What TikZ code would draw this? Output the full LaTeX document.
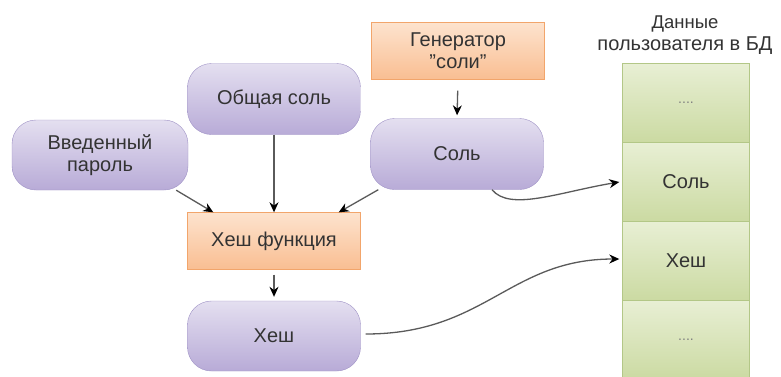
\documentclass[tikz,border=0pt]{standalone}
\usepackage{fontspec}
\setmainfont{Liberation Sans}[Ligatures=ResetAll]
\usetikzlibrary{arrows.meta}
\definecolor{pilltop}{HTML}{E4DFF0}
\definecolor{pillbot}{HTML}{B8ABD7}
\definecolor{pillline}{HTML}{9E91C5}
\definecolor{boxtop}{HTML}{FDE3CE}
\definecolor{boxbot}{HTML}{F9BE92}
\definecolor{boxline}{HTML}{F2A56B}
\definecolor{celltop}{HTML}{E8EFD4}
\definecolor{cellbot}{HTML}{CBDAA2}
\definecolor{cellline}{HTML}{B3C787}
\definecolor{txt}{HTML}{333333}
\definecolor{wire}{HTML}{5A5A5A}
\begin{document}
\begin{tikzpicture}[x=1pt,y=-1pt,
    every node/.style={text=txt, font=\fontsize{20}{22}\selectfont, align=center},
    pill/.style={draw=pillline, top color=pilltop, bottom color=pillbot, rounded corners=24pt,
        minimum width=173pt, minimum height=71pt},
    fnbox/.style={draw=boxline, top color=boxtop, bottom color=boxbot,
        minimum width=173pt, minimum height=57pt},
    cell/.style={draw=cellline, top color=celltop, bottom color=cellbot,
        minimum width=127pt, minimum height=79pt},
    conn/.style={draw=wire, line width=1.3pt, -{Stealth[length=10pt,width=9pt,black]}}]
    \useasboundingbox (0,0) rectangle (781,376);

    \node[fnbox] (G)  at (458,51)  {Генератор\\"соли"};
    \node[pill]  (C)  at (274,99)  {Общая соль};
    \node[pill, minimum width=176pt, minimum height=70pt] (P) at (100,155) {Введенный\\пароль};
    \node[pill]  (S)  at (457,154) {Соль};
    \node[fnbox] (F)  at (274,241) {Хеш функция};
    \node[pill, minimum height=70pt] (H) at (274,336) {Хеш};

    \node (T) at (685,35) {\fontsize{18.5}{21}\selectfont Данные\\пользователя в БД};
    \node[cell] (D1) at (686,103) {\color{gray}\fontsize{14}{14}\selectfont ....};
    \node[cell] (D2) at (686,182) {Соль};
    \node[cell] (D3) at (686,261) {Хеш};
    \node[cell] (D4) at (686,340) {\color{gray}\fontsize{14}{14}\selectfont ....};

    \draw[conn] ([xshift=-12pt]P.south east) -- ([xshift=26pt]F.north west);
    \draw[conn] (C.south) -- (F.north);
    \draw[conn] ([xshift=8pt]S.south west) -- ([xshift=-22pt]F.north east);
    \draw[conn, shorten <=11pt, shorten >=3pt] (G.south) -- (S.north);
    \draw[conn, shorten <=5pt, shorten >=4pt] (F.south) -- (H.north);
    \draw[conn] ([xshift=35pt]S.south) .. controls +(18,22) and +(-60,10) .. ([xshift=-3pt]D2.west);
    \draw[conn] ([xshift=5pt,yshift=2pt]H.east) .. controls +(120,0) and +(-110,0) .. ([xshift=-3pt,yshift=2pt]D3.west);
\end{tikzpicture}
\end{document}
